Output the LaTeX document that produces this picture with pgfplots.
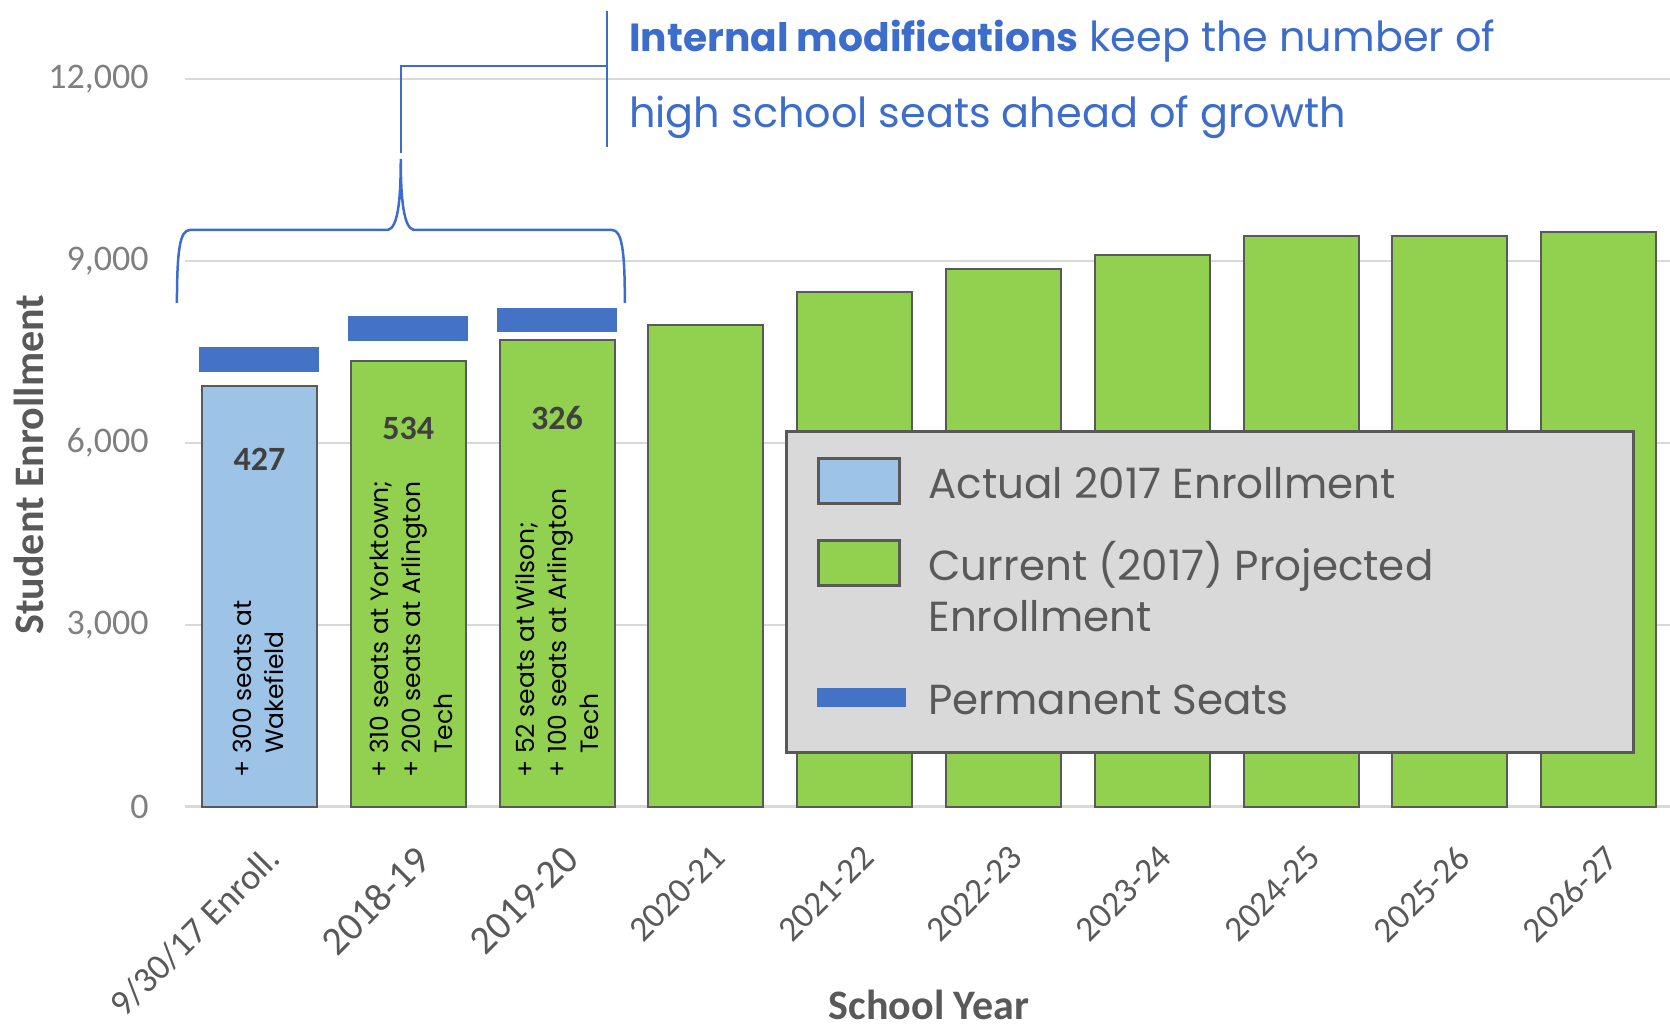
\documentclass[border=0pt]{standalone}
\usepackage{pgfplots}
\pgfplotsset{compat=1.18}
\usepackage{fontspec}
\setmainfont{Carlito}
\newfontfamily\gothic{Poppins}

\definecolor{cGreen}{HTML}{92D050}
\definecolor{cLight}{HTML}{9DC3E6}
\definecolor{cSeat}{HTML}{4472C4}
\definecolor{cEdge}{HTML}{595959}
\definecolor{cGrid}{HTML}{D9D9D9}
\definecolor{cTick}{HTML}{7F7F7F}
\definecolor{cNum}{HTML}{404040}
\definecolor{cTitle}{HTML}{3D6DCC}

% strut with given height and depth
\newcommand\lstrut[2]{\rule[-#2]{0pt}{\dimexpr#1+#2\relax}}

\pgfplotsset{
  boxlegend/.style={legend image code/.code={\draw[##1, line width=1.5pt] (0pt,-2.5pt) rectangle (40.5pt,20pt);}},
  seatlegend/.style={legend image code/.code={\fill[cSeat] (0pt,4.5pt) rectangle (43pt,12.5pt);}},
}

\begin{document}
\begin{tikzpicture}
\begin{axis}[
  name=ax,
  width=744pt, height=364pt, scale only axis,
  xmin=-0.5, xmax=9.5, ymin=0, ymax=12000,
  clip=false,
  axis lines*=left,
  x axis line style={draw=cGrid, line width=1.5pt},
  y axis line style={draw=none},
  major tick length=0pt,
  ymajorgrids, grid style={draw=cGrid, line width=1pt},
  ytick={0,3000,6000,9000,12000},
  scaled y ticks=false,
  /pgf/number format/1000 sep={,},
  /pgf/number format/assume math mode=true,
  yticklabel style={font=\fontsize{18}{20}\selectfont, text=cTick, anchor=east, inner sep=0pt, xshift=-18pt},
  xtick={0,...,9},
  xticklabels={{\fontsize{18.2}{22}\selectfont 9/30/17 Enroll.},
    {\fontsize{20}{22}\selectfont 2018-19},
    {\fontsize{20}{22}\selectfont 2019-20},
    2020-21,2021-22,2022-23,2023-24,2024-25,2025-26,2026-27},
  xticklabel style={font=\fontsize{17.7}{20}\selectfont, text=cEdge, xshift=2.5pt, yshift=-18pt, rotate=45, anchor=north east, inner sep=0pt},
  xlabel={School Year},
  xlabel style={at={(axis description cs:0.5,-0.272)}, anchor=center, font=\bfseries\fontsize{21}{24}\selectfont, text=cEdge},
  ylabel={Student Enrollment},
  ylabel style={at={(axis description cs:-0.105,0.47)}, anchor=center, font=\bfseries\fontsize{21}{24}\selectfont, text=cEdge},
  legend cell align=left,
  legend style={
    at={(0.403,0.518)}, anchor=north west,
    draw=cEdge, line width=1.5pt, fill=cGrid,
    inner xsep=15.5pt, inner ysep=0pt,
    row sep=0pt, column sep=11.2pt,
    font=\gothic\fontsize{21}{25.5}\selectfont, text=cEdge,
    cells={anchor=base west},
    nodes={inner sep=0pt, text depth=},
  },
]

\addplot[ybar, bar width=57.5pt, bar shift=0pt, fill=cLight, draw=cEdge, line width=1pt, boxlegend]
  coordinates {(0,6945)};
\addlegendentry{\makebox[337pt][l]{\lstrut{33.5pt}{20.5pt}Actual 2017 Enrollment}}

\addplot[ybar, bar width=57.5pt, bar shift=0pt, fill=cGreen, draw=cEdge, line width=1pt, boxlegend]
  coordinates {(1,7350) (2,7700) (3,7950) (4,8490) (5,8860) (6,9105) (7,9420) (8,9410) (9,9475)};
\addlegendentry{\vtop{\hbox{\lstrut{20.5pt}{0pt}Current (2017) Projected}\hbox{Enrollment\rule[-0.5pt]{0pt}{0pt}}}}

\addplot[only marks, mark=-, mark size=30pt, mark options={line width=12.3pt, draw=cSeat}, seatlegend]
  coordinates {(0,7372) (1,7884) (2,8026)};
\addlegendentry{\lstrut{41pt}{19pt}Permanent Seats}

% gap labels
\node[font=\bfseries\fontsize{17}{20}\selectfont, text=cNum] at (axis cs:0,5735) {427};
\node[font=\bfseries\fontsize{17}{20}\selectfont, text=cNum] at (axis cs:1,6246) {534};
\node[font=\bfseries\fontsize{17}{20}\selectfont, text=cNum] at (axis cs:2,6411) {326};

% notes inside the bars
\node[rotate=90, anchor=north west, inner sep=0pt, align=left, font=\gothic\fontsize{12.5}{16}\selectfont]
  at (axis cs:-0.178,478) {+ 300 seats at\\\phantom{+ }Wakefield};
\node[rotate=90, anchor=north west, inner sep=0pt, align=left, font=\gothic\fontsize{12.5}{16}\selectfont]
  at (axis cs:0.743,478) {+ 310 seats at Yorktown;\\+ 200 seats at Arlington\\\phantom{+ }Tech};
\node[rotate=90, anchor=north west, inner sep=0pt, align=left, font=\gothic\fontsize{12.5}{16}\selectfont]
  at (axis cs:1.716,478) {+ 52 seats at Wilson;\\+ 100 seats at Arlington\\\phantom{+ }Tech};

% brace and callout
\draw[cTitle, line width=1.25pt]
  (axis cs:-0.554,8308) .. controls (axis cs:-0.554,9182) and (axis cs:-0.534,9511) .. (axis cs:-0.467,9511)
  -- (axis cs:0.863,9511) .. controls (axis cs:0.931,9544) and (axis cs:0.950,10006) .. (axis cs:0.950,10682)
  .. controls (axis cs:0.950,10006) and (axis cs:0.970,9544) .. (axis cs:1.038,9511)
  -- (axis cs:2.369,9511) .. controls (axis cs:2.436,9511) and (axis cs:2.456,9182) .. (axis cs:2.456,8308);
\draw[cTitle, line width=1.25pt] (axis cs:0.950,10781) -- (axis cs:0.950,12215) -- (axis cs:2.335,12215);
\draw[cTitle, line width=1.25pt] (axis cs:2.335,13121) -- (axis cs:2.335,10879);

\node[anchor=base west, inner sep=0pt, font=\gothic\fontsize{20.7}{25}\selectfont, text=cTitle]
  at (axis cs:2.483,12446) {{\bfseries\fontsize{19.6}{25}\selectfont Internal modifications} keep the number of};
\node[anchor=base west, inner sep=0pt, font=\gothic\fontsize{20.7}{25}\selectfont, text=cTitle]
  at (axis cs:2.483,11193) {high school seats ahead of growth};
\end{axis}
\pgfresetboundingbox
\path[use as bounding box] (ax.south west) ++(-92.5pt,-110pt) rectangle ++(835pt,513.5pt);
\end{tikzpicture}
\end{document}
